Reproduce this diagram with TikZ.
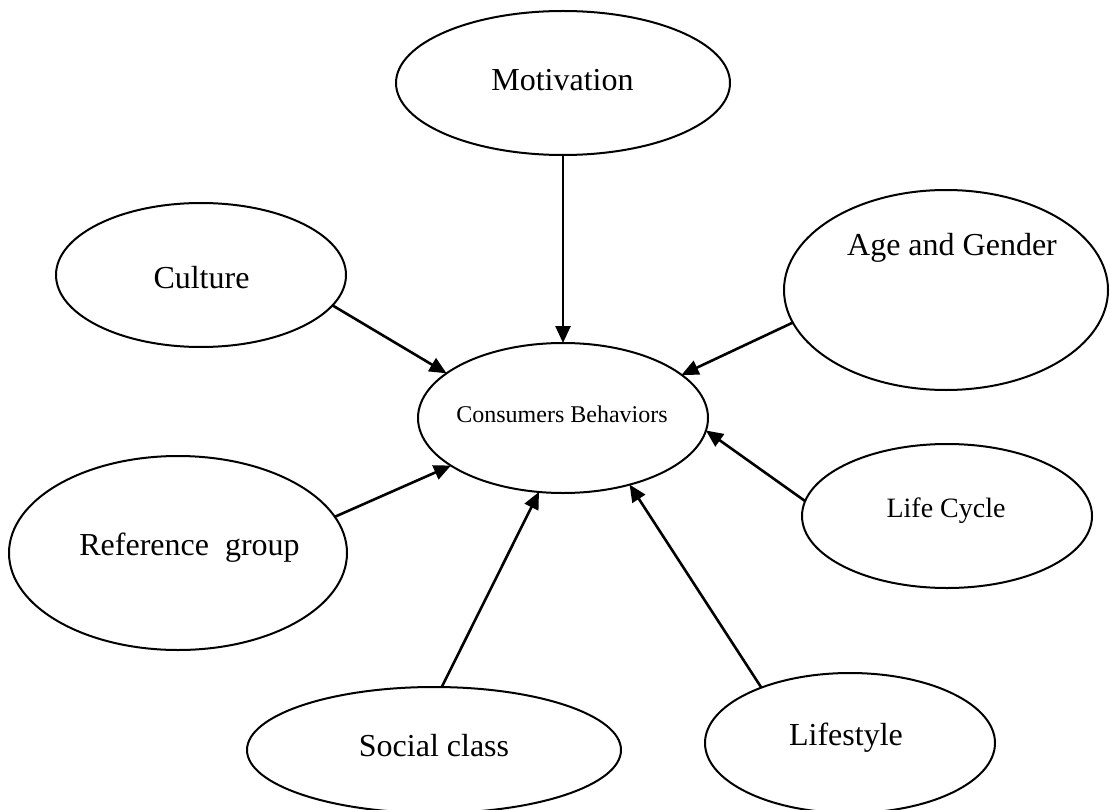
\documentclass[tikz,border=0pt]{standalone}
\usepackage{fontspec}
\setmainfont{Liberation Serif}
\usetikzlibrary{shapes.geometric,arrows.meta}
\begin{document}
\begin{tikzpicture}[x=1pt,y=-1pt,
  oval/.style={draw=black,line width=2pt,ellipse,inner sep=0pt,outer sep=0pt},
  lbl/.style={inner sep=0pt,font=\fontsize{32}{38}\selectfont},
  arr/.style={line width=2.6pt,-{Triangle[length=17pt,width=15pt]}}]
\useasboundingbox (0,0) rectangle (1110,810);
\clip (0,0) rectangle (1110,810);
% ellipses
\node[oval,minimum width=334pt,minimum height=144pt] (mot) at (563,83) {};
\node[oval,minimum width=290pt,minimum height=144pt] (cul) at (201,275) {};
\node[oval,minimum width=324pt,minimum height=200pt] (ag) at (946,290) {};
\node[oval,minimum width=290pt,minimum height=150pt] (cb) at (563,418) {};
\node[oval,minimum width=338pt,minimum height=194pt] (ref) at (178,553) {};
\node[oval,minimum width=290pt,minimum height=144pt] (lc) at (947,516) {};
\node[oval,minimum width=374pt,minimum height=126pt] (sc) at (434,750) {};
\node[oval,minimum width=290pt,minimum height=140pt] (ls) at (850,743) {};
% texts
\node[lbl] (tmot) at (562.5,80) {Motivation};
\node[lbl] (tcul) at (201.5,277.5) {Culture};
\node[lbl] (tag) at (952,248) {Age and Gender};
\node[lbl,font=\fontsize{24}{29}\selectfont] (tcb) at (562,414) {Consumers Behaviors};
\node[lbl] (tref) at (189.5,547.5) {Reference~~group};
\node[lbl,font=\fontsize{28}{34}\selectfont] (tlc) at (946,511) {Life Cycle};
\node[lbl] (tsc) at (434,745.5) {Social class};
\node[lbl] (tls) at (846,737.5) {Lifestyle};
% arrows
\draw[arr] (mot.south) -- (cb.north);
\draw[arr] (cul.-13.6) -- (cb.159);
\draw[arr] (ag.-168.8) -- (cb.20.8);
\draw[arr] (lc.174.4) -- (cb.-5.1);
\draw[arr] (ref.13.7) -- (cb.-157.4);
\draw[arr] (sc.83) -- (cb.-108.4);
\draw[arr] (ls.148.6) -- (cb.-45.8);
\end{tikzpicture}
\end{document}
